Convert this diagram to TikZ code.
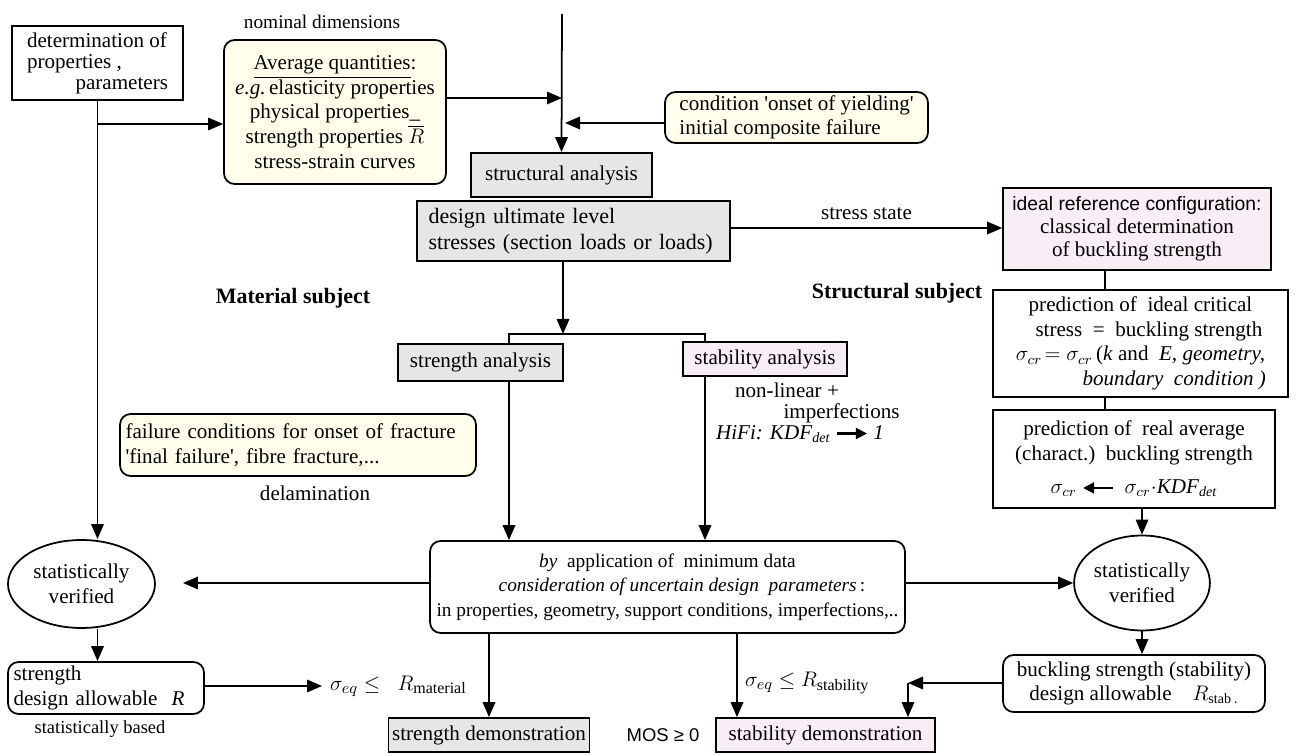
\documentclass[tikz,border=0pt]{standalone}
\usepackage{amsmath,amssymb}
\usepackage{fontspec}
\setmainfont{Liberation Serif}
\setsansfont{Liberation Sans}
\usetikzlibrary{positioning, arrows.meta, shapes.geometric}

\definecolor{yel}{HTML}{FFFFEC}
\definecolor{gry}{HTML}{E6E6E6}
\definecolor{pnk}{HTML}{F8EEF6}

\newcommand{\fatleft}{\tikz[x=1cm,y=1cm,baseline=-0.6ex]\draw[line width=1.2pt,{Triangle[length=2.2mm,width=2.2mm]}-](0,0)--(0.6,0);}
\newcommand{\fatright}{\tikz[x=1cm,y=1cm,baseline=-0.6ex]\draw[line width=1.2pt,-{Triangle[length=2.2mm,width=2.2mm]}](0,0)--(0.6,0);}
\newcommand{\kdf}{\textit{KDF}\textsubscript{\textit{det}}}

\begin{document}
\begin{tikzpicture}[
  x=0.02cm, y=-0.02cm,
  >={Triangle[length=3mm,width=2.5mm]},
  every node/.style={font=\fontsize{12}{14}\selectfont, inner sep=2pt},
  box/.style  = {draw, line width=1pt, align=center},
  rbox/.style = {box, rounded corners=6pt},
  ybox/.style = {rbox, fill=yel},
  gbox/.style = {box, fill=gry},
  pbox/.style = {box, fill=pnk},
  oval/.style = {ellipse, draw, line width=1pt, align=center, inner sep=0pt},
  lbl/.style  = {inner sep=1pt, align=center},
  arr/.style  = {->, line width=1pt},
  ln/.style   = {line width=1pt},
]
  \useasboundingbox (0,0) rectangle (1296,756);

  % material side, top
  \node[box, minimum width=3.42cm, minimum height=1.48cm, align=left] (det) at (97.5,63)
       {determination of\\[-2pt]properties ,\\[-2pt]\hspace*{2.3em}parameters};
  \node[lbl, font=\fontsize{11}{13}\selectfont] (nom) at (322,22) {nominal dimensions};
  \node[ybox, minimum width=4.44cm, minimum height=2.88cm] (avg) at (335,112)
       {\underline{Average quantities}:\\ \textit{e.g.}\,elasticity properties\\ physical properties\_\\
        strength properties $\overline{R}$\\ stress-strain curves};
  \node[ybox, minimum width=5.26cm, minimum height=1.02cm, align=left] (cond) at (796.5,117.5)
       {condition \textquotesingle onset of yielding\textquotesingle\\ initial composite failure};

  % structural analysis chain
  \node[gbox, minimum width=3.62cm, minimum height=0.88cm] (sa) at (561.5,175) {structural analysis};
  \node[gbox, minimum width=6.26cm, minimum height=1.2cm, text width=5.8cm, align=left,
        font=\fontsize{12.5}{14.5}\selectfont] (design) at (573.5,231)
       {design ultimate level\\ stresses (section loads or loads)};
  \node[pbox, minimum width=5.36cm, minimum height=1.64cm] (ideal) at (1137,229)
       {{\sffamily\fontsize{11}{13}\selectfont ideal reference configuration:}\\[-1pt] classical determination\\[-1pt] of buckling strength};
  \node[box, minimum width=5.9cm, minimum height=2.14cm] (pred1) at (1140.5,343.5)
       {prediction of\ \ ideal critical\\ \hspace*{0.8em}stress\ \ =\ \ buckling strength\\
        $\sigma_{cr}\!=\sigma_{cr}$\,(\textit{k} and\ \ \textit{E, geometry,}\\ \hspace*{3.2em}\textit{boundary\ \ condition )}};
  \node[box, minimum width=5.64cm, minimum height=1.96cm] (pred2) at (1134,459)
       {prediction of\ \ real average\\ (charact.)\ \ buckling strength\\[5pt] $\sigma_{cr}$\ \fatleft\ \ $\sigma_{cr}\cdot$\kdf};

  \node[lbl, font=\bfseries\fontsize{12.5}{14}\selectfont] (matsub) at (293,298) {Material subject};
  \node[lbl, font=\bfseries\fontsize{12.5}{14}\selectfont] (strsub) at (897,293) {Structural subject};

  % analyses
  \node[gbox, minimum width=3.3cm, minimum height=0.74cm] (stran) at (480.5,362.5) {strength analysis};
  \node[pbox, minimum width=3.28cm, minimum height=0.68cm] (stban) at (765,359) {stability analysis};
  \node[lbl, align=left, anchor=north west] (nonlin) at (733,381)
       {non-linear +\\[-2pt]\hspace*{2.3em}imperfections};
  \node[lbl, anchor=west] (hifi) at (714,434) {\textit{HiFi: }\kdf\ \fatright\ \textit{1}};
  \node[ybox, minimum width=7.12cm, minimum height=1.24cm, text width=6.9cm, align=left] (fail) at (298,445)
       {failure conditions for onset of fracture\\ \textquotesingle final failure\textquotesingle, fibre fracture,...};
  \node[lbl] (delam) at (315,493) {delamination};

  \node[rbox, minimum width=9.5cm, minimum height=1.84cm, font=\fontsize{11}{14}\selectfont] (min) at (667.5,587)
       {\textit{by}\ \ application of\ \ minimum data\\
        \hspace*{1.5em}\textit{consideration of uncertain design\ \ parameters}\,:\\
        in properties, geometry, support conditions, imperfections,..};

  % allowables
  \node[oval, minimum width=2.94cm, minimum height=1.76cm] (stat1) at (81.5,584) {statistically\\ verified};
  \node[oval, minimum width=2.66cm, minimum height=1.9cm] (stat2) at (1142,583) {statistically\\ verified};
  \node[rbox, minimum width=3.92cm, minimum height=1.04cm, text width=3.7cm, align=left] (sallow) at (106,688)
       {strength\\ design allowable\ \ \textit{R}};
  \node[lbl, font=\fontsize{10.5}{12}\selectfont] (sbased) at (100,729) {statistically based};
  \node[rbox, minimum width=5.24cm, minimum height=1.14cm] (bstab) at (1134,683.5)
       {buckling strength (stability)\\ design allowable\quad $R_{\text{stab}\,.}$};

  \node[lbl, anchor=west, font=\fontsize{13}{14}\selectfont] (matl) at (328,686) {$\sigma_{eq}\leq\ \ R_{\text{material}}$};
  \node[lbl, anchor=west, font=\fontsize{13}{14}\selectfont] (stabl) at (743,683) {$\sigma_{eq}\leq R_{\text{stability}}$};

  % demonstrations
  \node[gbox, minimum width=3.84cm, minimum height=0.68cm] (strdemo) at (489,735) {strength demonstration};
  \node[pbox, minimum width=4.38cm, minimum height=0.68cm] (stabdemo) at (825.5,735) {stability demonstration};
  \node[lbl, font=\sffamily\fontsize{10.5}{12}\selectfont] (mos) at (663,735) {MOS ≥ 0};

  % junctions
  \coordinate (top) at (562,14);
  \coordinate (jA) at (562,98);
  \coordinate (jD) at (98,124);
  \coordinate (rx) at (1105,300);
  \coordinate (jT) at (563,334);
  \coordinate (jT1) at (509,334);
  \coordinate (jT2) at (705,334);
  \coordinate (jL) at (183,583);
  \coordinate (jR) at (322,686);
  \coordinate (jS) at (908,683);
  \coordinate (jM) at (737,700);

  % connectors
  \draw[arr] (top) -- (sa.north);
  \draw[arr] (avg.east |- jA) -- (jA);
  \draw[arr] (cond.west |- 0,123) -- (565,123);
  \draw[arr] (design.east |- 0,228) -- (ideal.west |- 0,228) node[midway, above=3pt, lbl] (sst) {stress state};
  \draw[ln] (ideal.south -| rx) -- (pred1.north -| rx);
  \draw[ln] (pred1.south -| rx) -- (pred2.north -| rx);
  \draw[arr] (pred2.south -| stat2) -- (stat2.north);
  \draw[arr] (stat2.south) -- (stat2.south |- bstab.north);
  \draw[arr] (bstab.west |- jS) -- (jS);
  \draw[arr] (jS) -- (jS |- stabdemo.north);

  \draw[arr] (design.south -| jT) -- (jT);
  \draw[ln] (stran.north -| jT1) -- (jT1) -- (jT2) -- (stban.north -| jT2);
  \draw[arr] (stran.south -| jT1) -- (min.north -| jT1);
  \draw[arr] (stban.south -| jT2) -- (min.north -| jT2);

  \draw[arr] (min.east |- stat2.west) -- (stat2.west);
  \draw[arr] (min.west |- jL) -- (jL);
  \draw[arr] (min.south -| strdemo) -- (strdemo.north);
  \draw[arr] (min.south -| jM) -- (stabdemo.north -| jM);

  \draw[arr] (det.south) -- (det.south |- stat1.north);
  \draw[arr] (jD) -- (jD -| avg.west);
  \draw[arr] (det.south |- stat1.south) -- (det.south |- sallow.north);
  \draw[arr] (sallow.east |- jR) -- (jR);
\end{tikzpicture}
\end{document}
